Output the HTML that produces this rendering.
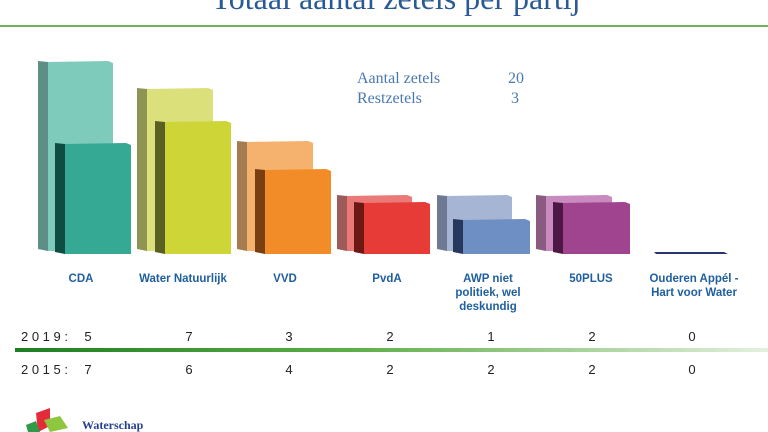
<!DOCTYPE html>
<html><head><meta charset="utf-8"><style>
html,body{margin:0;padding:0;background:#fff;}
svg{display:block;}
</style></head><body>
<svg width="768" height="432" viewBox="0 0 768 432" xmlns="http://www.w3.org/2000/svg">
<defs>
<linearGradient id="gl" x1="0" x2="1" y1="0" y2="0">
<stop offset="0" stop-color="#1e7d22"/><stop offset="0.45" stop-color="#5fae4a"/><stop offset="1" stop-color="#e4f0de"/>
</linearGradient>
</defs>
<text x="396" y="9" text-anchor="middle" font-family="Liberation Serif, serif" font-size="32" fill="#2a5a95">Totaal aantal zetels per partij</text>
<rect x="0" y="25" width="768" height="2" fill="#72b05e"/>

<g>
<polygon points="38,61 48,62 48,251 38,249" fill="#5e8f86"/><polygon points="48,62 108,61 113,63 113,251 48,251" fill="#7ecbbb"/>
<polygon points="137,88 147,89 147,251 137,249" fill="#8e9552"/><polygon points="147,89 208,88 213,90 213,251 147,251" fill="#dbe07a"/>
<polygon points="237,141 247,142 247,251 237,249" fill="#a57b50"/><polygon points="247,142 308,141 313,143 313,251 247,251" fill="#f5b26e"/>
<polygon points="337,195 347,196 347,251 337,249" fill="#9c5a58"/><polygon points="347,196 407,195 412,197 412,251 347,251" fill="#e97a78"/>
<polygon points="437,195 447,196 447,251 437,249" fill="#6e7a94"/><polygon points="447,196 507,195 512,197 512,251 447,251" fill="#a6b5d3"/>
<polygon points="536,195 546,196 546,251 536,249" fill="#8a5a80"/><polygon points="546,196 607,195 612,197 612,251 546,251" fill="#c98abf"/>
</g>
<g>
<polygon points="55,143 65,144 65,254 55,252" fill="#0f4d43"/><polygon points="65,144 126,143 131,145 131,254 65,254" fill="#36a995"/>
<polygon points="155,121 165,122 165,254 155,252" fill="#5a6022"/><polygon points="165,122 226,121 231,123 231,254 165,254" fill="#cdd636"/>
<polygon points="255,169 265,170 265,254 255,252" fill="#7a3f10"/><polygon points="265,170 326,169 331,171 331,254 265,254" fill="#f28c28"/>
<polygon points="354,202 364,203 364,254 354,252" fill="#6e1814"/><polygon points="364,203 425,202 430,204 430,254 364,254" fill="#e63b37"/>
<polygon points="453,219 463,220 463,254 453,252" fill="#27385c"/><polygon points="463,220 525,219 530,221 530,254 463,254" fill="#6e8fc3"/>
<polygon points="553,202 563,203 563,254 553,252" fill="#4e1844"/><polygon points="563,203 625,202 630,204 630,254 563,254" fill="#a1448f"/>
<polygon points="654,252 724,252 728,254 656,254" fill="#2a3470"/>
</g>

<g font-family="Liberation Serif, serif" font-size="16" fill="#4a78b0">
<text x="357" y="83">Aantal zetels</text><text x="524" y="83" text-anchor="end">20</text>
<text x="357" y="103">Restzetels</text><text x="519" y="103" text-anchor="end">3</text>
</g>

<g font-family="Liberation Sans, sans-serif" font-size="11.5" font-weight="bold" fill="#1f5fa0" text-anchor="middle">
<text x="81" y="282">CDA</text>
<text x="183" y="282">Water Natuurlijk</text>
<text x="285" y="282">VVD</text>
<text x="387" y="282">PvdA</text>
<text x="488" y="282">AWP niet</text><text x="488" y="296">politiek, wel</text><text x="488" y="310">deskundig</text>
<text x="591" y="282">50PLUS</text>
<text x="694" y="282">Ouderen Appél -</text><text x="694" y="296">Hart voor Water</text>
</g>

<g font-family="Liberation Sans, sans-serif" font-size="13" fill="#222" text-anchor="middle">
<text x="21" y="341" text-anchor="start" letter-spacing="3.6">2019:</text>
<text x="88" y="341">5</text><text x="189" y="341">7</text><text x="289" y="341">3</text><text x="390" y="341">2</text><text x="491" y="341">1</text><text x="592" y="341">2</text><text x="692" y="341">0</text>
<text x="21" y="374" text-anchor="start" letter-spacing="3.6">2015:</text>
<text x="88" y="374">7</text><text x="189" y="374">6</text><text x="289" y="374">4</text><text x="390" y="374">2</text><text x="491" y="374">2</text><text x="592" y="374">2</text><text x="692" y="374">0</text>
</g>
<rect x="15" y="348" width="753" height="4" fill="url(#gl)"/>

<polygon points="36,413 50,408 50,426 38,432" fill="#e52a3a"/>
<polygon points="44,420 60,416 68,428 50,432" fill="#8dc63f"/>
<polygon points="26,425 36,421 40,432 28,432" fill="#2f9b48"/>
<text x="82" y="429" font-family="Liberation Serif, serif" font-size="12" font-weight="bold" fill="#243f8f">Waterschap</text>
</svg>
</body></html>
